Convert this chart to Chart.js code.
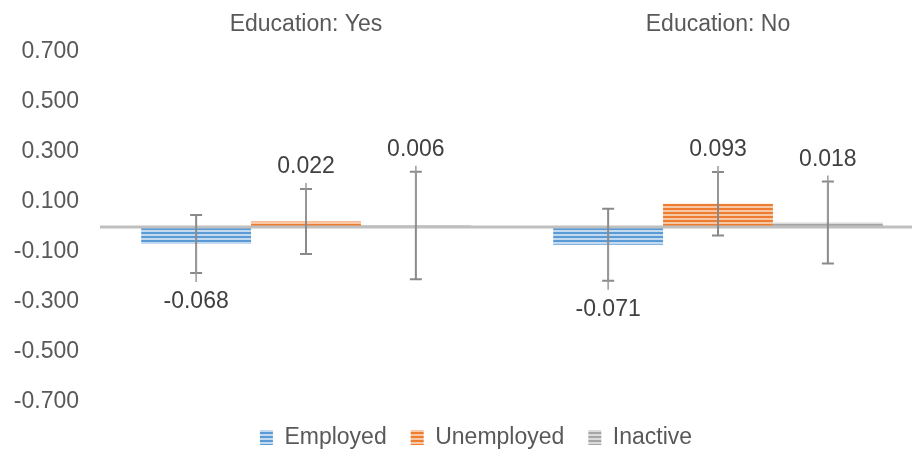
<!DOCTYPE html>
<html>
<head>
<meta charset="utf-8">
<script src="https://cdn.jsdelivr.net/npm/chart.js@4.4.1/dist/chart.umd.min.js"></script>
<style>
  html, body { margin: 0; padding: 0; background: #ffffff; overflow: hidden; }
  canvas { display: block; }
</style>
</head>
<body>
<canvas id="c" width="924" height="459"></canvas>
<script>
// ---- data ----
const categories = ['Education: Yes', 'Education: No'];
const seriesNames = ['Employed', 'Unemployed', 'Inactive'];
const employed = [-0.068, -0.071];
const unemployed = [0.022, 0.093];
const inactive = [0.006, 0.018];
const employedErr = [0.116, 0.144];
const unemployedErr = [0.130, 0.127];
const inactiveErr = [0.215, 0.164];
const yTicks = [-0.7, -0.5, -0.3, -0.1, 0.1, 0.3, 0.5, 0.7];

// ---- styles ----
const FONT = '"Liberation Sans", Arial, sans-serif';
function stripes(fg, bg) {
  const p = document.createElement('canvas');
  p.width = 4; p.height = 4;
  const c = p.getContext('2d');
  c.fillStyle = bg; c.fillRect(0, 0, 4, 4);
  c.fillStyle = fg; c.fillRect(0, 0, 4, 2);
  return document.getElementById('c').getContext('2d').createPattern(p, 'repeat');
}
const fills = [
  stripes('#5b9bd5', '#c2d9f0'),
  stripes('#ed7d31', '#f7c7a6'),
  stripes('#a5a5a5', '#dadada')
];

const legendShift = {
  id: 'legendShift',
  afterLayout(chart) {
    if (chart.legend) chart.legend.left += 28;
  }
};

const overlay = {
  id: 'overlay',
  afterDatasetsDraw(chart) {
    const { ctx, chartArea, scales: { y } } = chart;
    const y0 = y.getPixelForValue(0);
    ctx.save();
    ctx.strokeStyle = '#bfbfbf';
    ctx.lineWidth = 3;
    ctx.beginPath();
    ctx.moveTo(chartArea.left, y0);
    ctx.lineTo(chartArea.right, y0);
    ctx.stroke();

    chart.data.datasets.forEach((ds, di) => {
      const meta = chart.getDatasetMeta(di);
      meta.data.forEach((bar, i) => {
        const v = ds.data[i];
        const e = ds.errorBars[i];
        const x = bar.x;
        const yt = y.getPixelForValue(v + e);
        const yb = y.getPixelForValue(v - e);
        ctx.strokeStyle = '#8a8a8a';
        ctx.lineWidth = 2;
        ctx.beginPath();
        ctx.moveTo(x, yt); ctx.lineTo(x, yb);
        ctx.moveTo(x - 6, yt); ctx.lineTo(x + 6, yt);
        ctx.moveTo(x - 6, yb); ctx.lineTo(x + 6, yb);
        ctx.stroke();

        const pos = v >= 0;
        const ly = pos ? yt - 22 : yb + 29;
        const leadEnd = pos ? ly + 16 : ly - 20;
        ctx.strokeStyle = '#9a9a9a';
        ctx.lineWidth = 1.5;
        ctx.beginPath();
        ctx.moveTo(x, bar.y);
        ctx.lineTo(x, leadEnd);
        ctx.stroke();

        ctx.fillStyle = '#404040';
        ctx.font = '23px ' + FONT;
        ctx.textAlign = 'center';
        ctx.textBaseline = 'middle';
        ctx.fillText(v.toFixed(3), x, ly);
      });
    });
    ctx.restore();
  }
};

new Chart(document.getElementById('c'), {
  type: 'bar',
  data: {
    labels: categories,
    datasets: [
      { label: seriesNames[0], data: employed, errorBars: employedErr, backgroundColor: fills[0], borderWidth: 0 },
      { label: seriesNames[1], data: unemployed, errorBars: unemployedErr, backgroundColor: fills[1], borderWidth: 0 },
      { label: seriesNames[2], data: inactive, errorBars: inactiveErr, backgroundColor: fills[2], borderWidth: 0 }
    ]
  },
  options: {
    responsive: false,
    animation: false,
    devicePixelRatio: 1,
    layout: { padding: 0 },
    datasets: { bar: { categoryPercentage: 0.8, barPercentage: 1.0 } },
    plugins: {
      tooltip: { enabled: false },
      legend: {
        position: 'bottom',
        labels: {
          color: '#595959',
          font: { family: FONT, size: 23 },
          boxWidth: 13,
          boxHeight: 15,
          padding: 24
        }
      }
    },
    scales: {
      x: {
        position: 'top',
        grid: { display: false, drawTicks: false },
        border: { display: false },
        ticks: { color: '#595959', font: { family: FONT, size: 23 }, padding: 14, maxRotation: 0 },
        afterFit(scale) { scale.height = 52; }
      },
      y: {
        min: -0.7,
        max: 0.7,
        grid: { display: false, drawTicks: false },
        border: { display: false },
        afterBuildTicks(scale) { scale.ticks = yTicks.map(v => ({ value: v })); },
        ticks: {
          color: '#595959',
          font: { family: FONT, size: 23 },
          padding: 21,
          callback: v => Number(v).toFixed(3)
        },
        afterFit(scale) { scale.width = 100; }
      }
    }
  },
  plugins: [legendShift, overlay]
});
</script>
</body>
</html>
